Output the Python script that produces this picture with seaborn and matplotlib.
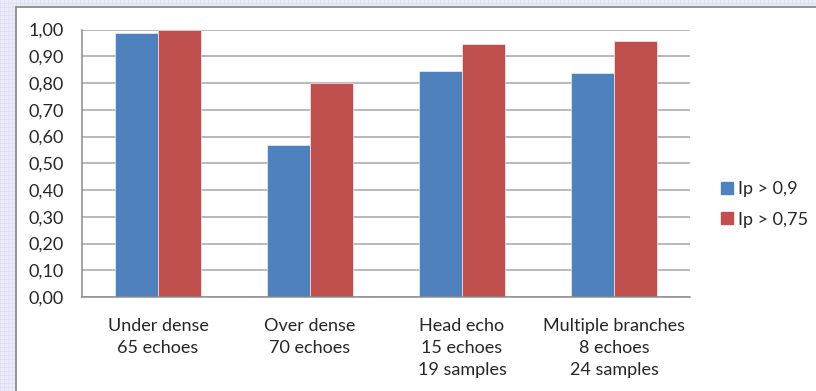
import matplotlib
matplotlib.use("Agg")
import matplotlib.pyplot as plt
import matplotlib.patches as mpatches
from matplotlib.lines import Line2D
from matplotlib.ticker import FuncFormatter, FixedLocator
import seaborn as sns
import pandas as pd

categories = ["Under dense\n65 echoes", "Over dense\n70 echoes",
              "Head echo\n15 echoes\n19 samples",
              "Multiple branches\n8 echoes\n24 samples"]
series_names = ["Ip > 0,9", "Ip > 0,75"]
ip_09 = [0.987, 0.57, 0.846, 0.836]
ip_075 = [1.00, 0.80, 0.946, 0.957]
colors = ["#4F81BD", "#C0504D"]

df = pd.DataFrame({
    "category": categories * 2,
    "series": [series_names[0]] * 4 + [series_names[1]] * 4,
    "value": ip_09 + ip_075,
})

sns.set_style("white")
plt.rcParams["font.family"] = ["Lato", "DejaVu Sans"]
plt.rcParams["font.size"] = 13
text_color = "#262626"

fig = plt.figure(figsize=(8.16, 3.91), dpi=100)
fig.patch.set_facecolor("#ebebf9")

# faint graph-paper pattern around the chart box
W, H = 816, 391
for x in range(0, W, 4):
    fig.add_artist(Line2D([x / W, x / W], [0, 1], color="#dcdcf3", lw=0.5, transform=fig.transFigure, zorder=0))
for y in range(0, H, 4):
    fig.add_artist(Line2D([0, 1], [y / H, y / H], color="#dcdcf3", lw=0.5, transform=fig.transFigure, zorder=0))

# white chart box with gray frame (runs off the right and bottom edges)
box_l, box_t = 16 / W, 1 - 7 / H
fig.add_artist(mpatches.Rectangle((box_l, -0.05), 1.1 - box_l, box_t + 0.05, transform=fig.transFigure,
                                  facecolor="white", edgecolor="#8c8c8c", lw=1.3, zorder=1))

ax = fig.add_axes([82 / W, 1 - 297 / H, (690 - 82) / W, (297 - 29.5) / H])
ax.set_zorder(2)
ax.patch.set_alpha(0)

sns.barplot(data=df, x="category", y="value", hue="series", palette=colors,
            saturation=1, width=0.566, gap=0, edgecolor="white", linewidth=0.4,
            ax=ax, legend=False)

ax.set_ylim(0, 1.0)
ax.set_xlim(-0.5, 3.5)
ax.yaxis.set_major_locator(FixedLocator([i / 10 for i in range(11)]))
ax.yaxis.set_major_formatter(FuncFormatter(lambda v, p: f"{v:.2f}".replace(".", ",")))
ax.grid(axis="y", color="#a6a6a6", lw=1.1)
ax.set_axisbelow(True)
for s in ["top", "right"]:
    ax.spines[s].set_visible(False)
for s in ["left", "bottom"]:
    ax.spines[s].set_color("#8c8c8c")
    ax.spines[s].set_linewidth(1.1)

ax.set_xlabel("")
ax.set_ylabel("")
ax.set_xticks(range(4))
ax.set_xticklabels(categories, linespacing=1.45, color=text_color, va="top")
ax.tick_params(axis="x", length=0, pad=15)
ax.set_xticks([-0.5, 0.5, 1.5, 2.5, 3.5], minor=True)
ax.tick_params(axis="x", which="minor", length=5, color="#8c8c8c", width=1.1, direction="out")
ax.tick_params(axis="y", length=5, color="#8c8c8c", width=1.1, direction="out", pad=8, labelcolor=text_color)

handles = [Line2D([], [], marker="s", linestyle="none", markersize=8, color=c) for c in colors]
fig.legend(handles, series_names, loc="upper left", bbox_to_anchor=(702 / W, 1 - 165 / H),
           frameon=False, handletextpad=0.1, labelspacing=0.8, labelcolor=text_color, handlelength=1.0)

fig.savefig("out.png", dpi=100)
